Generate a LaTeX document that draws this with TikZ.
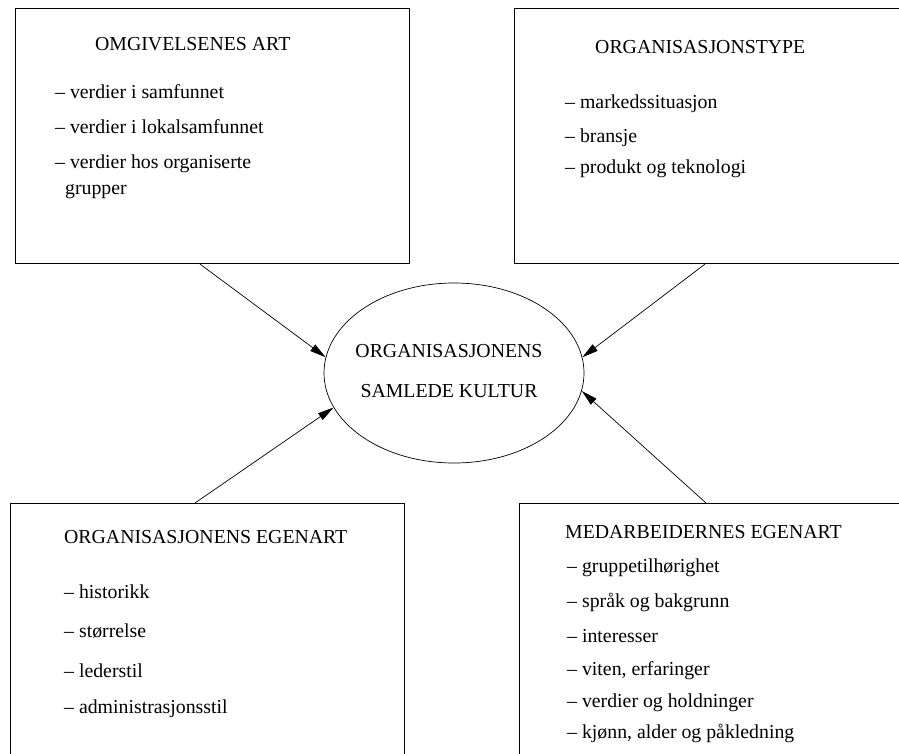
\documentclass[tikz,border=0pt]{standalone}
\usepackage{fontspec}
\setmainfont{Liberation Serif}
\usetikzlibrary{arrows.meta,calc,shapes.geometric}
\begin{document}
\begin{tikzpicture}[x=1pt,y=-1pt,
  frame/.style={draw, line width=1.1pt, rectangle, anchor=north west, inner sep=0pt},
  txt/.style={anchor=base west, inner sep=0pt, font=\fontsize{19.8}{24}\selectfont},
  ctxt/.style={anchor=base, inner sep=0pt, font=\fontsize{19.8}{24}\selectfont},
  link/.style={line width=0.7pt, -{Triangle[length=16pt,width=8pt]}},
]
\useasboundingbox (0,0) rectangle (899,753);
\clip (0,0) rectangle (899,753);

% the four factor boxes (the right and lower ones run past the page edge)
\node[frame, minimum width=394pt, minimum height=255pt] (tl) at (15,8) {};
\node[frame, minimum width=400pt, minimum height=255pt] (tr) at (514,8) {};
\node[frame, minimum width=394pt, minimum height=300pt] (bl) at (10,503) {};
\node[frame, minimum width=400pt, minimum height=300pt] (br) at (519,503) {};

% central culture ellipse
\node[draw, ellipse, line width=0.7pt, minimum width=260pt, minimum height=180pt, inner sep=0pt] (core) at (454,373) {};
\node[ctxt] (core1) at (449,357) {ORGANISASJONENS};
\node[ctxt] (core2) at (449,397) {SAMLEDE KULTUR};

% top left box
\node[txt] (tlh) at (95,50) {OMGIVELSENES ART};
\node[txt] (tl1) at (55,98) {-- verdier i samfunnet};
\node[txt] (tl2) at (55,133) {-- verdier i lokalsamfunnet};
\node[txt] (tl3) at (55,168) {-- verdier hos organiserte};
\node[txt] (tl4) at (65,194) {grupper};

% top right box
\node[txt] (trh) at (595,53) {ORGANISASJONSTYPE};
\node[txt] (tr1) at (565,108) {-- markedssituasjon};
\node[txt] (tr2) at (565,142) {-- bransje};
\node[txt] (tr3) at (565,173) {-- produkt og teknologi};

% bottom left box
\node[txt] (blh) at (64,543) {ORGANISASJONENS EGENART};
\node[txt] (bl1) at (64,598) {-- historikk};
\node[txt] (bl2) at (64,637) {-- størrelse};
\node[txt] (bl3) at (64,677) {-- lederstil};
\node[txt] (bl4) at (64,713) {-- administrasjonsstil};

% bottom right box
\node[txt] (brh) at (565,538) {MEDARBEIDERNES EGENART};
\node[txt] (br1) at (567,572) {-- gruppetilhørighet};
\node[txt] (br2) at (567,607) {-- språk og bakgrunn};
\node[txt] (br3) at (567,642) {-- interesser};
\node[txt] (br4) at (567,675) {-- viten, erfaringer};
\node[txt] (br5) at (567,707) {-- verdier og holdninger};
\node[txt] (br6) at (567,738) {-- kjønn, alder og påkledning};

% influences pointing into the ellipse
\draw[link] ($(tl.south west)+(185,0)$) -- (core.173);
\draw[link] ($(tr.south west)+(191,0)$) -- (core.7);
\draw[link] ($(bl.north west)+(185,0)$) -- (core.196);
\draw[link] ($(br.north west)+(187,0)$) -- (core.352);
\end{tikzpicture}
\end{document}
